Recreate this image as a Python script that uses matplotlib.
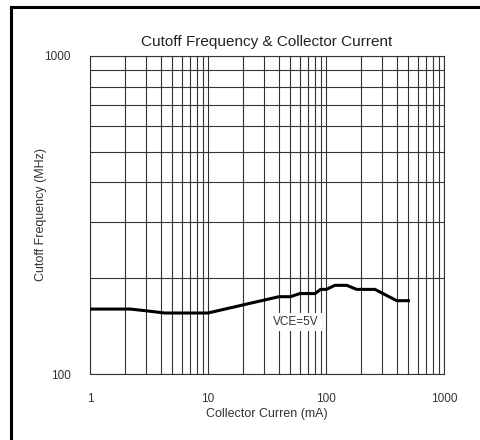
import matplotlib.pyplot as plt
from matplotlib.lines import Line2D
from matplotlib.ticker import FixedLocator, NullFormatter

plt.rcParams['font.family'] = ['Liberation Sans', 'DejaVu Sans']

# Collector current (mA) vs cutoff frequency (MHz)
current_ma = [1, 2.2, 3.0, 4.3, 10, 20, 40, 50, 60, 81, 90, 101, 119, 150, 182, 260, 398, 500]
freq_mhz = [160, 160, 158, 155.5, 155.5, 165, 175, 175, 179, 179, 184.5, 184.5, 190, 190, 184.5, 184.5, 170, 170]

x_ticks = [1, 10, 100, 1000]
y_ticks = [100, 1000]

fig = plt.figure(figsize=(4.81, 4.4), dpi=100)
ax = fig.add_axes([0.187, 0.15, 0.736, 0.723])

ax.plot(current_ma, freq_mhz, color='black', linewidth=2.2, zorder=3)

ax.set_xscale('log')
ax.set_yscale('log')
ax.set_xlim(1, 1000)
ax.set_ylim(100, 1000)

ax.xaxis.set_major_locator(FixedLocator(x_ticks))
ax.yaxis.set_major_locator(FixedLocator(y_ticks))
ax.set_xticklabels([str(t) for t in x_ticks])
ax.set_yticklabels([str(t) for t in y_ticks])
ax.xaxis.set_minor_formatter(NullFormatter())
ax.yaxis.set_minor_formatter(NullFormatter())
ax.tick_params(which='both', length=0, labelsize=8.5, colors='#333333')
ax.tick_params(axis='x', pad=14)
ax.tick_params(axis='y', pad=14)

ax.grid(True, which='both', color='#333333', linewidth=0.8)
for s in ax.spines.values():
    s.set_color('#333333')
    s.set_linewidth(0.8)

ax.set_title('Cutoff Frequency & Collector Current', fontsize=11, pad=7, color='#222222')
ax.set_xlabel('Collector Curren (mA)', fontsize=9, labelpad=2, color='#333333')
ax.set_ylabel('Cutoff Frequency (MHz)', fontsize=9, color='#333333')
ax.yaxis.set_label_coords(-0.12, 0.5)

ax.text(55.7, 145.8, 'VCE=5V', fontsize=8.5, ha='center', va='center', zorder=4,
        color='#333333', bbox=dict(facecolor='white', edgecolor='none', pad=2))

# outer frame (left and top edges only visible)
fig.add_artist(Line2D([11 / 481, 11 / 481], [0, 1 - 7 / 440], color='black', linewidth=2.2))
fig.add_artist(Line2D([11 / 481, 1], [1 - 7 / 440, 1 - 7 / 440], color='black', linewidth=2.2))

fig.savefig('out.png', dpi=100)
